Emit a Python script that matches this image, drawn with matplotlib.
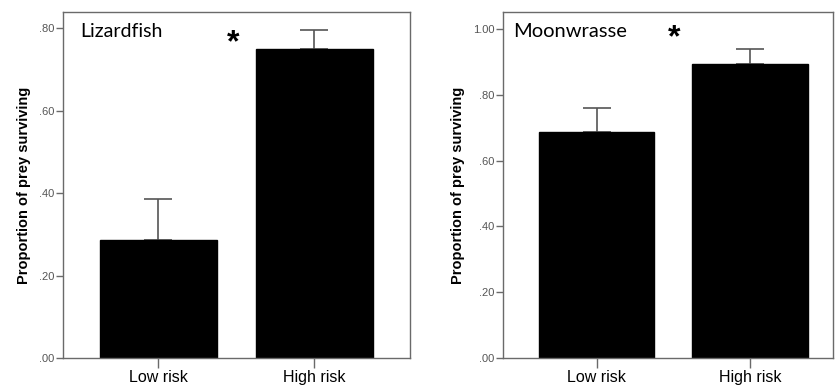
import matplotlib
matplotlib.use("Agg")
import matplotlib.pyplot as plt
import numpy as np

categories = ["Low risk", "High risk"]
lizard_means = [0.286, 0.749]
lizard_err = [0.100, 0.048]
moon_means = [0.688, 0.893]
moon_err = [0.071, 0.045]
lizard_ticks = [0.0, 0.2, 0.4, 0.6, 0.8]
lizard_ticklabels = [".00", ".20", ".40", ".60", ".80"]
moon_ticks = [0.0, 0.2, 0.4, 0.6, 0.8, 1.0]
moon_ticklabels = [".00", ".20", ".40", ".60", ".80", "1.00"]

plt.rcParams['font.family'] = ['Liberation Sans', 'DejaVu Sans']

fig = plt.figure(figsize=(8.35, 3.9), dpi=100)
ax1 = fig.add_axes([63/835, 32/390, 347/835, 346/390])
ax2 = fig.add_axes([503/835, 32/390, 330/835, 346/390])

spine_col = "#6a6a6a"

def draw(ax, means, errs, ticks, ticklabels, ylim, xlim, title, title_x, title_size, star_x, star_y):
    x = np.arange(len(categories))
    ax.bar(x, means, width=0.75, color="black", edgecolor="black", zorder=2)
    ax.errorbar(x, means, yerr=[np.zeros(len(errs)), errs], fmt="none",
                ecolor="#555555", elinewidth=1.2, capsize=10, capthick=1.2, zorder=1)
    ax.set_xlim(*xlim)
    ax.set_ylim(*ylim)
    ax.set_xticks(x)
    ax.set_xticklabels(categories, fontsize=11.5, color="#000000")
    ax.set_yticks(ticks)
    ax.set_yticklabels(ticklabels, fontsize=8, color="#555555")
    ax.tick_params(axis="y", direction="out", length=5, width=1, color=spine_col, pad=1)
    ax.tick_params(axis="x", direction="out", length=7, width=1, color=spine_col, pad=1.5)
    for s in ax.spines.values():
        s.set_color(spine_col)
        s.set_linewidth(1.0)
    ax.set_ylabel("Proportion of prey surviving", fontsize=10.5, fontweight="bold", labelpad=6)
    ax.text(title_x, 0.945, title, transform=ax.transAxes, fontsize=title_size,
            family=["Lato", "DejaVu Sans"], va="center", ha="left")
    ax.text(star_x, star_y, "*", transform=ax.transAxes, fontsize=23,
            fontweight="bold", va="center", ha="center")

draw(ax1, lizard_means, lizard_err, lizard_ticks, lizard_ticklabels,
     (0, 0.84), (-0.609, 1.615), "Lizardfish", 0.05, 14, 0.49, 0.91)
draw(ax2, moon_means, moon_err, moon_ticks, moon_ticklabels,
     (0, 1.052), (-0.609, 1.54), "Moonwrasse", 0.03, 14.5, 0.52, 0.925)

fig.savefig("out.png", dpi=100)
